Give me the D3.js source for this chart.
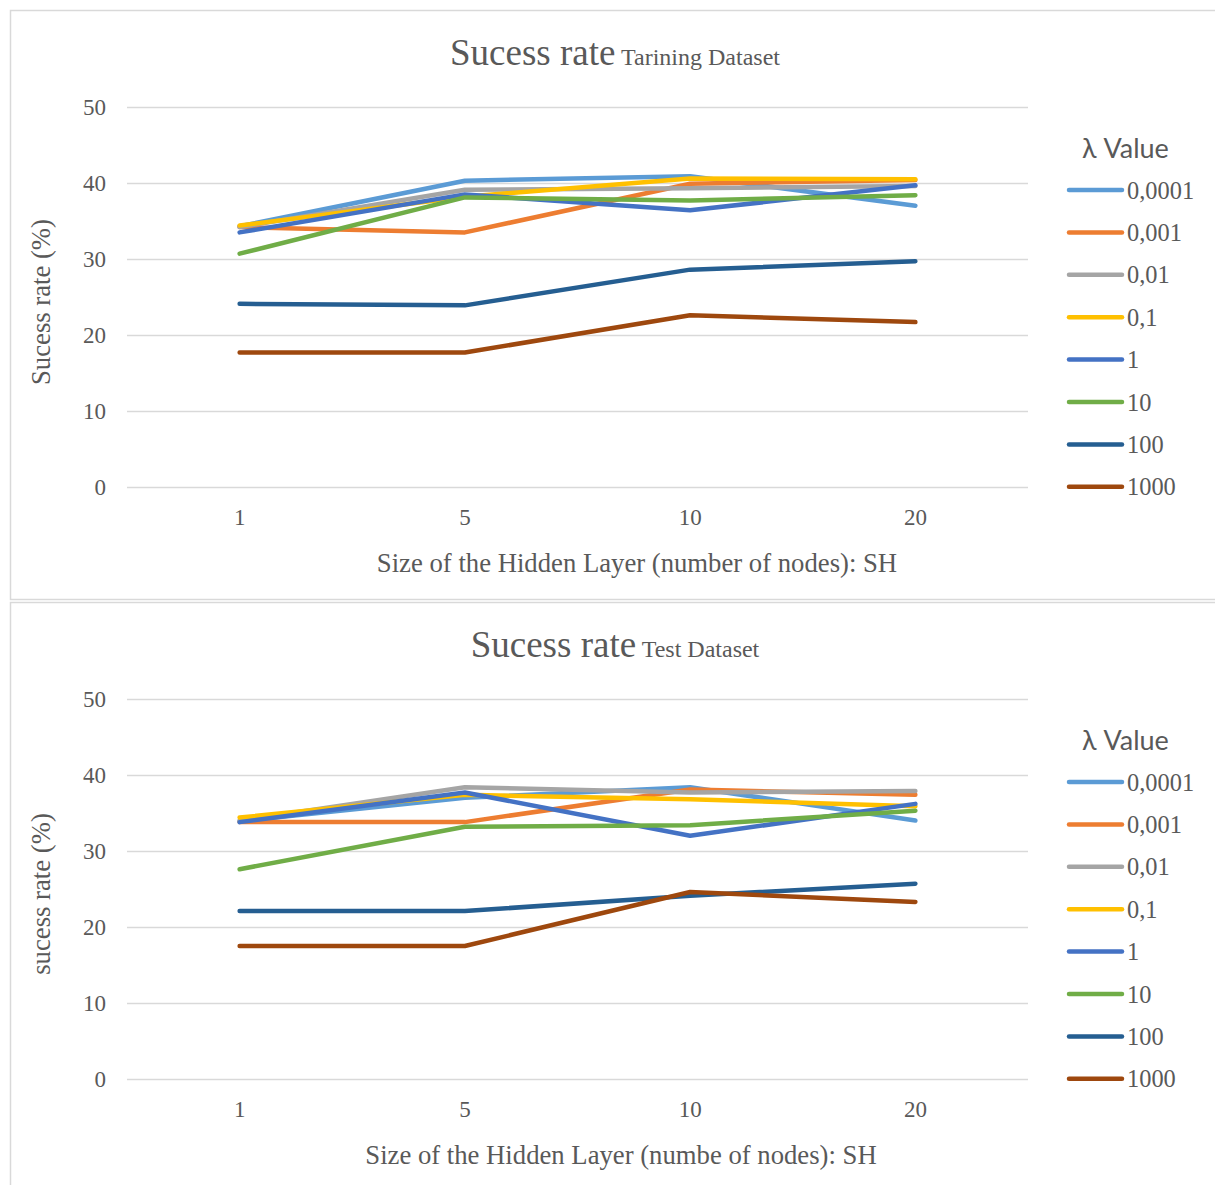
<!DOCTYPE html>
<html>
<head>
<meta charset="utf-8">
<script src="https://cdn.jsdelivr.net/npm/d3@7"></script>
<style>
  body { margin: 0; background: #fff; }
  svg { display: block; }
</style>
</head>
<body>
<script>
// categories, series names and values
var nodes = ["1", "5", "10", "20"];
var lambdas = ["0,0001", "0,001", "0,01", "0,1", "1", "10", "100", "1000"];
var colors = ["#5B9BD5", "#ED7D31", "#A5A5A5", "#FFC000", "#4472C4", "#70AD47", "#255E91", "#9E480E"];
var yTicks = [0, 10, 20, 30, 40, 50];

var trainRates = [
  [34.3, 40.3, 40.9, 37.0],
  [34.2, 33.5, 39.9, 40.4],
  [34.2, 39.1, 39.3, 39.6],
  [34.4, 38.2, 40.6, 40.5],
  [33.5, 38.5, 36.4, 39.7],
  [30.7, 38.1, 37.7, 38.4],
  [24.1, 23.9, 28.6, 29.7],
  [17.7, 17.7, 22.6, 21.7]
];
var testRates = [
  [33.9, 37.0, 38.4, 34.0],
  [33.8, 33.8, 38.1, 37.4],
  [34.0, 38.4, 37.7, 37.9],
  [34.4, 37.4, 36.8, 35.9],
  [33.8, 37.7, 32.0, 36.2],
  [27.6, 33.2, 33.4, 35.3],
  [22.1, 22.1, 24.1, 25.7],
  [17.5, 17.5, 24.6, 23.3]
];

var svgWidth = 1215;
var svgHeight = 1185;
var textColor = "#595959";
var serif = "'Liberation Serif', 'Times New Roman', serif";

var svg = d3.select("body")
            .append("svg")
            .attr("width", svgWidth)
            .attr("height", svgHeight);

function drawChart(top, rates, titleMain, titleSub, xLabel, xLabelX, yLabel) {
  // chart box
  svg.append("rect")
     .attr("x", 10.5).attr("y", top + 0.5)
     .attr("width", 1215).attr("height", 589)
     .attr("fill", "none")
     .attr("stroke", "#d9d9d9")
     .attr("stroke-width", 1.5);

  var g = svg.append("g").attr("transform", "translate(0," + top + ")");

  var x = d3.scalePoint()
            .domain(nodes)
            .range([127, 1028])
            .padding(0.5);

  var y = d3.scaleLinear()
            .domain([0, 50])
            .range([477, 97]);

  // gridlines
  g.append("g")
   .call(d3.axisLeft(y).tickValues(yTicks).tickSize(-(1028 - 127)).tickFormat(""))
   .attr("transform", "translate(127,0)")
   .call(function(a) {
     a.select(".domain").remove();
     a.selectAll("line").attr("stroke", "#d9d9d9").attr("stroke-width", 1.5);
   });

  // y tick labels
  g.selectAll(".ylab")
   .data(yTicks)
   .enter()
   .append("text")
   .attr("x", 106)
   .attr("y", function(d) { return y(d); })
   .attr("dy", "0.35em")
   .attr("text-anchor", "end")
   .style("font-family", serif)
   .style("font-size", "23px")
   .style("fill", textColor)
   .text(function(d) { return d; });

  // x tick labels
  g.selectAll(".xlab")
   .data(nodes)
   .enter()
   .append("text")
   .attr("x", function(d) { return x(d); })
   .attr("y", 507)
   .attr("dy", "0.35em")
   .attr("text-anchor", "middle")
   .style("font-family", serif)
   .style("font-size", "23px")
   .style("fill", textColor)
   .text(function(d) { return d; });

  // lines
  var line = d3.line()
               .x(function(d, i) { return x(nodes[i]); })
               .y(function(d) { return y(d); });

  g.selectAll(".series")
   .data(rates)
   .enter()
   .append("path")
   .attr("d", line)
   .attr("fill", "none")
   .attr("stroke", function(d, i) { return colors[i]; })
   .attr("stroke-width", 4.5)
   .attr("stroke-linecap", "round")
   .attr("stroke-linejoin", "round");

  // title
  var title = g.append("text")
               .attr("x", 615)
               .attr("y", 55)
               .attr("text-anchor", "middle")
               .style("font-family", serif)
               .style("fill", textColor);
  title.append("tspan").style("font-size", "37px").text(titleMain);
  title.append("tspan").style("font-size", "24px").text(" " + titleSub);

  // axis titles
  g.append("text")
   .attr("x", xLabelX)
   .attr("y", 553)
   .attr("dy", "0.35em")
   .attr("text-anchor", "middle")
   .style("font-family", serif)
   .style("font-size", "26.7px")
   .style("fill", textColor)
   .text(xLabel);

  g.append("text")
   .attr("transform", "translate(41," + 292 + ") rotate(-90)")
   .attr("dy", "0.35em")
   .attr("text-anchor", "middle")
   .style("font-family", serif)
   .style("font-size", "26.7px")
   .style("fill", textColor)
   .text(yLabel);

  // legend
  g.append("text")
   .attr("x", 1082)
   .attr("y", 139)
   .attr("dy", "0.35em")
   .style("font-family", "Lato, 'Open Sans', sans-serif")
   .style("font-size", "27px")
   .style("fill", textColor)
   .text("\u03BB Value");

  var legend = g.selectAll(".legend")
                .data(lambdas)
                .enter()
                .append("g")
                .attr("transform", function(d, i) { return "translate(0," + (180 + i * 42.4) + ")"; });

  legend.append("line")
        .attr("x1", 1069).attr("x2", 1122)
        .attr("stroke", function(d, i) { return colors[i]; })
        .attr("stroke-width", 4.5)
        .attr("stroke-linecap", "round");

  legend.append("text")
        .attr("x", 1127)
        .attr("dy", "0.35em")
        .style("font-family", serif)
        .style("font-size", "24.4px")
        .style("fill", textColor)
        .text(function(d) { return d; });
}

drawChart(10, trainRates, "Sucess rate", "Tarining Dataset",
          "Size of the Hidden Layer (number of nodes): SH", 637, "Sucess rate (%)");
drawChart(602, testRates, "Sucess rate", "Test Dataset",
          "Size of the Hidden Layer (numbe of nodes): SH", 621, "sucess rate (%)");
</script>
</body>
</html>
